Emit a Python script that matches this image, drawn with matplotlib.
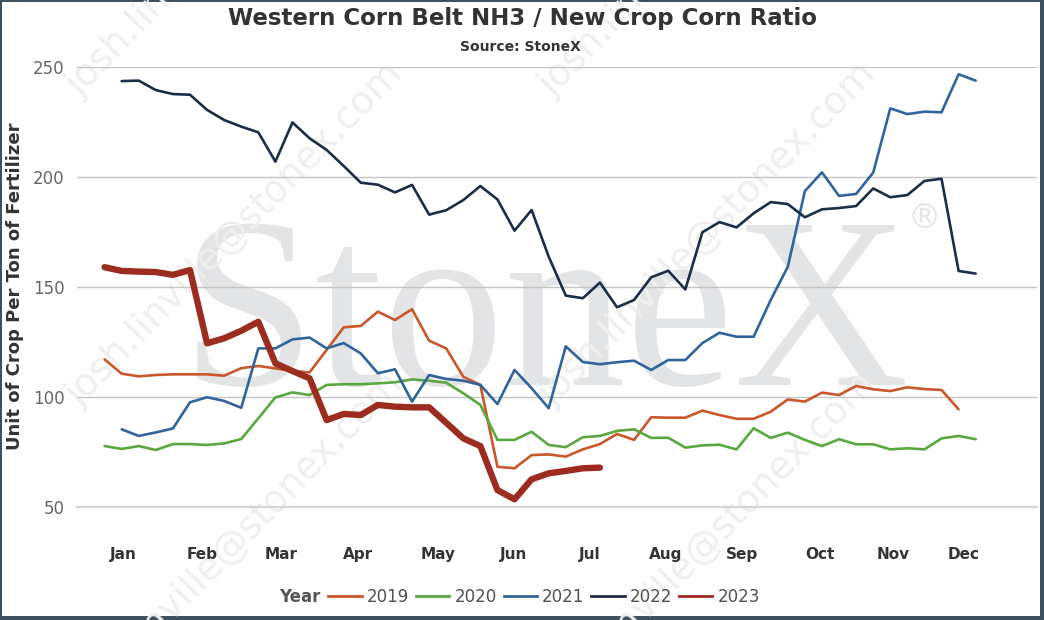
import numpy as np
import matplotlib
matplotlib.use("Agg")
import matplotlib.pyplot as plt
from matplotlib.lines import Line2D
from matplotlib.patches import Rectangle

# ---------------- data ----------------
years = ["2019", "2020", "2021", "2022", "2023"]
start_week = [0, 0, 1, 1, 0]

v2019 = [117.1, 110.6, 109.4, 110.0, 110.3, 110.3, 110.3, 109.7, 113.1, 114.1,
         113.0, 111.8, 111.2, 121.4, 131.7, 132.3, 138.8, 135.0, 139.9, 125.6,
         122.1, 109.2, 105.5, 68.3, 67.6, 73.6, 73.9, 72.9, 76.2, 78.6,
         83.2, 80.5, 90.8, 90.6, 90.6, 93.8, 91.8, 90.1, 90.1, 93.3,
         98.9, 97.9, 102.0, 100.9, 105.0, 103.5, 102.7, 104.4, 103.6, 103.2,
         94.4]
v2020 = [77.7, 76.4, 77.7, 75.9, 78.6, 78.6, 78.2, 78.9, 80.9, 90.3,
         99.8, 102.1, 100.9, 105.5, 105.8, 105.8, 106.2, 106.7, 108.0, 107.4,
         106.5, 101.7, 96.4, 80.5, 80.5, 84.2, 78.2, 77.2, 81.7, 82.3,
         84.6, 85.3, 81.4, 81.5, 77.0, 78.0, 78.3, 76.2, 85.8, 81.4,
         83.8, 80.5, 77.7, 80.8, 78.5, 78.5, 76.2, 76.7, 76.2, 81.2,
         82.3, 80.8]
v2021 = [85.3, 82.3, 83.9, 85.7, 97.6, 99.9, 98.2, 95.1, 122.1, 122.1,
         126.2, 127.0, 122.1, 124.5, 119.8, 110.8, 112.6, 97.9, 110.0, 108.2,
         107.4, 105.5, 96.8, 112.3, 104.0, 94.9, 123.0, 115.9, 114.9, 115.8,
         116.5, 112.3, 116.8, 116.8, 124.5, 129.2, 127.4, 127.4, 144.1, 159.2,
         193.6, 202.1, 191.4, 192.3, 202.0, 231.2, 228.6, 229.7, 229.4, 246.7,
         243.8]
v2022 = [243.6, 243.8, 239.5, 237.7, 237.4, 230.5, 225.9, 222.9, 220.3, 207.0,
         224.8, 217.6, 212.3, 205.0, 197.4, 196.5, 193.0, 196.4, 182.9, 184.9,
         189.5, 195.9, 189.8, 175.6, 185.0, 163.8, 146.1, 144.9, 152.0, 140.8,
         144.1, 154.4, 157.4, 148.9, 174.9, 179.5, 177.1, 183.5, 188.6, 187.7,
         181.7, 185.3, 185.9, 186.8, 194.8, 190.8, 191.8, 198.2, 199.2, 157.3,
         156.1]
v2023 = [159.0, 157.3, 157.0, 156.8, 155.5, 157.7, 124.4, 126.7, 130.1, 134.2,
         115.3, 111.8, 108.5, 89.5, 92.3, 91.8, 96.4, 95.6, 95.3, 95.3,
         88.3, 81.2, 77.7, 57.7, 53.5, 62.6, 65.3, 66.4, 67.6, 67.9]
series = [v2019, v2020, v2021, v2022, v2023]

months = ["Jan", "Feb", "Mar", "Apr", "May", "Jun", "Jul", "Aug", "Sep", "Oct", "Nov", "Dec"]
month_week = [1.09, 5.70, 10.34, 14.83, 19.52, 23.97, 28.41, 32.83, 37.31, 41.88, 46.17, 50.32]
yticks = [50, 100, 150, 200, 250]

# ---------------- style ----------------
colors = ["#c9572b", "#5ba73f", "#31649b", "#1b2d47", "#9c2c1f"]
widths = [1.9, 1.9, 1.9, 1.9, 4.6]

W, H = 1044, 620
fig = plt.figure(figsize=(W / 100, H / 100), dpi=100, facecolor="#3f505e")
fig.patches.append(Rectangle((2 / W, 4 / H), 1038 / W, 614 / H,
                             transform=fig.transFigure, facecolor="white",
                             edgecolor="none", zorder=-10))

ax = fig.add_axes([77 / W, 1 - 507 / H, 960 / W, 440 / H])
ax.patch.set_alpha(0)

# watermarks (behind the data)
ax.text(545 / W, 1 - 385 / H, "StoneX", transform=fig.transFigure,
        fontsize=175, family="Liberation Serif", color="#e3e4e6",
        ha="center", va="baseline", zorder=0.1, clip_on=False)
ax.text(924 / W, 1 - 219 / H, "®", transform=fig.transFigure,
        fontsize=24, family="DejaVu Sans", color="#e3e4e6",
        ha="center", va="center", zorder=0.1, clip_on=False)
for sx, sy in [(80, 97), (80, 407), (80, 717), (553, 97), (553, 407), (553, 717)]:
    ax.text(sx / W, 1 - sy / H, "josh.linville@stonex.com", transform=fig.transFigure,
            fontsize=27, color="#efefef", rotation=45.6, rotation_mode="anchor",
            ha="left", va="baseline", zorder=0.2, clip_on=False)

for yr, st, vals, c, lw in zip(years, start_week, series, colors, widths):
    x = st + np.arange(len(vals))
    ax.plot(x, vals, color=c, lw=lw, solid_joinstyle="round",
            solid_capstyle="round", zorder=3)

ax.set_xlim(-1.616, 54.59)
ax.set_ylim(50, 250)
ax.set_yticks(yticks)
ax.set_yticklabels([str(v) for v in yticks])
ax.set_xticks(month_week)
ax.set_xticklabels(months, fontweight="bold", color="#333333", fontsize=11)
ax.tick_params(axis="x", length=0, pad=29)
ax.tick_params(axis="y", length=0, pad=9, labelsize=12, labelcolor="#666666")
ax.grid(axis="y", color="#c4c4c4", lw=1.0, zorder=0.5)
ax.set_axisbelow(True)
for s in ["top", "right", "left"]:
    ax.spines[s].set_visible(False)
ax.spines["bottom"].set_color("#d4d4d4")
ax.spines["bottom"].set_linewidth(1.6)

fig.text(522 / W, 1 - 25 / H, "Western Corn Belt NH3 / New Crop Corn Ratio",
         fontsize=16.5, fontweight="bold", color="#333333", ha="center", va="baseline")
fig.text(520 / W, 1 - 51 / H, "Source: StoneX", fontsize=10, fontweight="bold",
         color="#333333", ha="center", va="baseline")
fig.text(15 / W, 1 - 286 / H, "Unit of Crop Per Ton of Fertilizer", rotation=90,
         fontsize=13, fontweight="bold", color="#333333", ha="center", va="center")

handles = [Line2D([], [], color=c, lw=2) for c in colors]
fig.legend(handles, years, loc="center", bbox_to_anchor=(544 / W, 1 - 597 / H),
           ncol=5, frameon=False, fontsize=12, labelcolor="#505050",
           handlelength=2.0, handletextpad=0.3, columnspacing=0.42,
           borderpad=0, borderaxespad=0)
fig.text(300 / W, 1 - 597 / H, "Year", fontsize=12, fontweight="bold",
         color="#555555", ha="center", va="center")

fig.savefig("out.png", dpi=100, facecolor=fig.get_facecolor())
